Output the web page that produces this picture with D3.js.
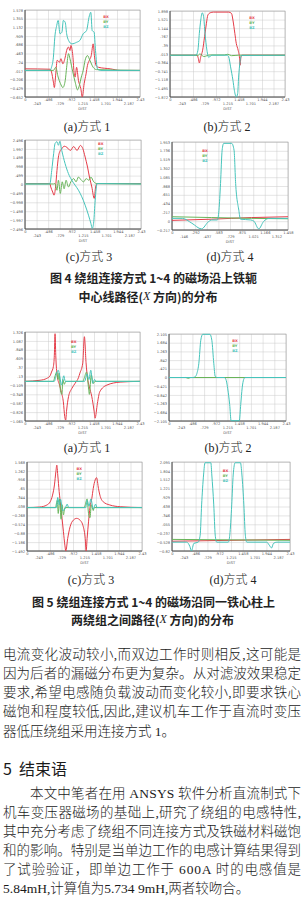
<!DOCTYPE html>
<html>
<head>
<meta charset="utf-8">
<script src="https://cdn.jsdelivr.net/npm/d3@7"></script>
<style>
body { margin: 0; background: #fff; }
svg { display: block; }
</style>
</head>
<body>
<div id="display"></div>
<script>

// x tick labels (ANSYS path distance)
const xTicksLong = [0, .243, .486, .729, .972, 1.215, 1.458, 1.701, 1.944, 2.187, 2.43]
const xTicksShort = [0, .146, .292, .437, .583, .729, .875, 1.021, 1.166, 1.312, 1.458]
const seriesNames = ["BX", "BY", "BZ"]

// fig 4 (a)
const f4aTicks = [1.578, 1.355, 1.132, .909, .686, .463, .24, .017, -.206, -.429, -.652]
const f4aBX = [[0,.07],[.53,.06],[.56,-.01],[.60,-.27],[.62,-.41],[.65,-.06],[.68,.29],[.73,.24],[.76,.33],[.80,.20],[.85,.37],[.88,.54],[.92,.63],[.95,.54],[.97,.67],[1.01,.41],[1.04,-.06],[1.06,-.14],[1.09,.11],[1.13,-.23],[1.18,-.44],[1.21,-.65],[1.25,-.31],[1.29,-.06],[1.32,.16],[1.36,.29],[1.40,.41],[1.44,.71],[1.47,.37],[1.50,.16],[1.55,.11],[1.80,.07],[2.01,.03],[2.43,.03]]
const f4aBY = [[0,.03],[.60,.03],[.65,.11],[.70,-.14],[.75,-.31],[.80,-.41],[.85,-.23],[.88,.11],[.92,.46],[.95,.33],[1.01,-.01],[1.06,-.27],[1.11,-.47],[1.15,-.35],[1.19,-.14],[1.23,.03],[1.27,.29],[1.32,.41],[1.37,.29],[1.44,.11],[1.51,.05],[2.43,.03]]
const f4aBZ = [[0,.03],[.53,.03],[.56,.11],[.60,.37],[.63,.88],[.67,1.18],[.70,1.31],[.74,.97],[.78,1.01],[.81,1.31],[.85,1.26],[.88,.97],[.92,.80],[.99,.71],[1.09,.75],[1.16,.80],[1.23,.97],[1.30,1.05],[1.36,1.43],[1.39,1.52],[1.42,1.05],[1.46,1.01],[1.49,.54],[1.53,.07],[1.59,.03],[2.43,.03]]

// fig 4 (b)
const f4bTicks = [1.898, 1.521, 1.144, .767, .39, .013, -.364, -.741, -1.118, -1.495, -1.872]
const f4bBX = [[0,-.04],[.57,-.04],[.60,-.19],[.62,-.38],[.65,-.11],[.69,.18],[.73,.77],[.77,1.36],[.80,1.72],[.85,1.82],[.92,1.85],[1.24,1.85],[1.30,1.79],[1.33,1.50],[1.37,.92],[1.40,.48],[1.44,.18],[1.47,-.19],[1.48,-.48],[1.50,-.11],[1.52,-.04],[2.43,-.04]]
const f4bBY = [[0,-.04],[.60,-.04],[.63,.02],[.66,-.02],[.72,-.10],[.78,-.06],[.85,-.03],[1.15,-.03],[1.22,0],[1.30,-.06],[1.45,-.04],[2.43,-.04]]
const f4bBZ = [[0,-.04],[.55,-.04],[.59,.18],[.62,.92],[.65,1.50],[.68,1.82],[.71,1.65],[.74,.92],[.78,.18],[.82,-.14],[.85,-.08],[.89,-.04],[1.21,-.04],[1.24,-.11],[1.28,-.55],[1.33,-1.14],[1.36,-1.58],[1.40,-1.87],[1.43,-1.72],[1.45,-1.0],[1.48,-.33],[1.51,-.05],[2.43,-.04]]

// fig 4 (c)
const f4cTicks = [2.496, 1.997, 1.498, .998, .499, 0, -.499, -.998, -1.498, -1.997, -2.496]
const f4cBX = [[0,.05],[.52,.05],[.54,-.14],[.58,-.42],[.61,-.6],[.64,-.14],[.67,.79],[.70,1.54],[.74,1.91],[.77,2.0],[.82,2.15],[.88,2.08],[.95,1.91],[1.02,2.13],[1.09,1.91],[1.16,2.19],[1.21,2.02],[1.26,1.54],[1.31,.98],[1.35,.42],[1.40,-.14],[1.45,-.78],[1.48,-.14],[1.51,.05],[2.43,.05]]
const f4cBY = [[0,.03],[.60,.03],[.63,.05],[.67,-.32],[.70,.24],[.74,-.5],[.78,.15],[.82,-.24],[.86,.24],[.91,-.14],[.96,.15],[1.02,.33],[1.07,.15],[1.12,.42],[1.17,.27],[1.23,.15],[1.28,.33],[1.34,.24],[1.38,.42],[1.44,.15],[1.51,.05],[2.43,.03]]
const f4cBZ = [[0,.03],[.52,.03],[.56,.79],[.60,1.73],[.63,2.3],[.67,2.4],[.70,2.2],[.73,2.42],[.77,1.91],[.84,1.17],[.91,.61],[.98,.24],[1.05,-.04],[1.12,-.32],[1.19,-.69],[1.26,-1.16],[1.33,-1.72],[1.38,-2.18],[1.41,-2.46],[1.44,-2.09],[1.47,-.88],[1.51,.05],[2.43,.03]]

// fig 4 (d)
const f4dTicks = [1.953, 1.736, 1.519, 1.302, 1.085, .868, .651, .434, .217, 0, -.217]
const f4dBX = [[0,.02],[.5,.05],[1.0,.09],[1.458,.11]]
const f4dBY = [[0,.11],[.5,.09],[1.0,.07],[1.458,.06]]
const f4dBZ = [[0,.07],[.13,.07],[.25,-.05],[.37,-.19],[.46,-.01],[.50,.03],[.57,.03],[.59,.27],[.61,.93],[.63,1.75],[.65,1.92],[.75,1.92],[.78,1.75],[.80,.93],[.84,.27],[.86,.05],[.99,.03],[1.03,0],[1.09,-.19],[1.15,-.01],[1.22,.07],[1.458,.07]]

// fig 5 (a)
const f5aTicks = [1.326, 1.087, .848, .609, .37, .13, -.109, -.348, -.587, -.826, -1.065]
const f5aBX = [[0,0],[.32,.03],[.46,.08],[.53,.15],[.56,.25],[.60,.40],[.62,.70],[.635,1.28],[.65,.70],[.68,.15],[.73,-.10],[.77,-.30],[.81,-.55],[.84,-.95],[.86,-1.04],[.88,-.77],[.92,-.41],[.99,-.19],[1.06,-.05],[1.13,.10],[1.16,.22],[1.22,.49],[1.255,1.20],[1.29,.50],[1.32,.10],[1.36,-.15],[1.41,-.40],[1.46,-.80],[1.48,-.99],[1.53,-.59],[1.58,-.28],[1.73,-.10],[2.01,-.02],[2.43,0]]
const f5aBY = [[0,0],[.60,0],[.63,.12],[.67,.25],[.70,.05],[.72,.22],[.75,-.25],[.78,-.35],[.80,.05],[.83,-.08],[.86,0],[1.22,0],[1.25,.08],[1.30,.25],[1.34,-.15],[1.36,-.35],[1.40,.18],[1.44,-.06],[1.48,0],[2.43,0]]
const f5aBZ = [[0,0],[.62,0],[.66,.18],[.70,.30],[.74,.1],[.77,-.1],[.82,.15],[.85,0],[1.26,0],[1.31,.2],[1.35,.05],[1.39,.30],[1.43,-.05],[1.47,.05],[1.50,0],[2.43,0]]

// fig 5 (b)
const f5bTicks = [2.105, 1.684, 1.263, .842, .421, 0, -.421, -.842, -1.263, -1.684, -2.105]
const f5bBX = [[0,0],[2.43,0]]
const f5bBY = [[0,0],[.35,0],[.40,-.04],[.45,0],[2.43,0]]
const f5bBZ = [[0,0],[.50,0],[.55,.05],[.58,.20],[.62,.69],[.66,1.8],[.70,2.09],[.85,2.09],[.89,1.8],[.93,.69],[.96,.05],[1.0,0],[1.15,0],[1.19,-.15],[1.22,-.55],[1.26,-1.3],[1.29,-2.09],[1.46,-2.09],[1.49,-1.3],[1.52,-.50],[1.55,-.1],[1.58,0],[2.43,0]]

// fig 5 (c)
const f5cTicks = [1.568, 1.262, .956, .65, .344, .038, -.268, -.574, -.88, -1.186, -1.492]
const f5cBX = [[0,0],[.27,.02],[.42,.09],[.49,.20],[.54,.43],[.58,.78],[.61,1.23],[.63,1.46],[.65,1.12],[.68,.55],[.71,.09],[.74,-.37],[.77,-.83],[.80,-1.29],[.82,-1.49],[.86,-1.06],[.91,-.66],[.98,-.43],[1.05,-.37],[1.12,-.43],[1.19,-.66],[1.23,-1.06],[1.25,-1.49],[1.27,-1.06],[1.30,-.49],[1.33,0],[1.37,.32],[1.40,.66],[1.44,.95],[1.47,1.03],[1.51,.66],[1.54,.43],[1.61,.20],[1.75,.09],[1.97,.03],[2.43,0]]
const f5cBY = [[0,0],[.60,0],[.64,.25],[.66,-.2],[.69,.3],[.72,-.4],[.74,.1],[.77,-.25],[.80,0],[1.21,0],[1.24,.15],[1.27,.3],[1.30,-.2],[1.33,-.35],[1.36,.1],[1.40,-.1],[1.42,0],[2.43,0]]
const f5cBZ = [[0,0],[.62,0],[.65,.35],[.68,.1],[.71,.28],[.75,-.1],[.80,-.05],[.85,.12],[.88,0],[1.24,0],[1.27,.25],[1.31,.05],[1.35,.30],[1.40,-.05],[1.45,.12],[1.48,0],[2.43,0]]

// fig 5 (d)
const f5dTicks = [2.095, 1.804, 1.512, 1.221, .929, .638, .346, .055, -.237, -.528, -.82]
const f5dBX = [[0,-.50],[2.43,-.44]]
const f5dBY = [[0,-.44],[2.43,-.47]]
const f5dBZ = [[0,-.53],[.30,-.53],[.37,-.68],[.40,-.82],[.45,-.57],[.54,-.53],[.58,-.30],[.61,.69],[.65,1.67],[.68,2.07],[.80,2.07],[.82,1.67],[.86,.69],[.89,-.30],[.92,-.53],[1.16,-.53],[1.19,-.30],[1.23,.69],[1.26,1.67],[1.30,2.07],[1.41,2.07],[1.44,1.67],[1.48,.69],[1.51,-.30],[1.54,-.53],[1.95,-.53],[2.00,-.62],[2.05,-.72],[2.09,-.57],[2.16,-.53],[2.43,-.53]]

const fig4Caption = ["图 4 绕组连接方式 1~4 的磁场沿上铁轭", "中心线路径(", "X", " 方向)的分布"]
const fig5Caption = ["图 5 绕组连接方式 1~4 的磁场沿同一铁心柱上", "两绕组之间路径(", "X", " 方向)的分布"]

const para1 = [
  "电流变化波动较小,而双边工作时则相反,这可能是",
  "因为后者的漏磁分布更为复杂。从对滤波效果稳定",
  "要求,希望电感随负载波动而变化较小,即要求铁心",
  "磁饱和程度较低,因此,建议机车工作于直流时变压",
  "器低压绕组采用连接方式 1。"
]
const heading = "5  结束语"
const para2 = [
  "本文中笔者在用 ANSYS 软件分析直流制式下",
  "机车变压器磁场的基础上,研究了绕组的电感特性,",
  "其中充分考虑了绕组不同连接方式及铁磁材料磁饱",
  "和的影响。特别是当单边工作的电感计算结果得到",
  "了试验验证，即单边工作于 600A 时的电感值是",
  "5.84mH,计算值为5.734 9mH,两者较吻合。"
]

const colors = ["#e53c48", "#68b45a", "#46c4bb"]

const panels = [
  {id: "f4a", left: 25, top: 10, w: 115, h: 87, xt: xTicksLong, yt: f4aTicks, data: [f4aBX, f4aBY, f4aBZ], cap: "(a)方式 1", cx: 87, cy: 127, lx: .68, ly: 8},
  {id: "f4b", left: 170, top: 11, w: 115, h: 86, xt: xTicksLong, yt: f4bTicks, data: [f4bBX, f4bBY, f4bBZ], cap: "(b)方式 2", cx: 227, cy: 127, lx: .69, ly: 8},
  {id: "f4c", left: 25, top: 140, w: 116, h: 89, xt: xTicksLong, yt: f4cTicks, data: [f4cBX, f4cBY, f4cBZ], cap: "(c)方式 3", cx: 89, cy: 257, lx: .63, ly: 5},
  {id: "f4d", left: 172, top: 142, w: 116, h: 88, xt: xTicksShort, yt: f4dTicks, data: [f4dBX, f4dBY, f4dBZ], cap: "(d)方式 4", cx: 230, cy: 257, lx: .26, ly: 10},
  {id: "f5a", left: 25, top: 332, w: 115, h: 89, xt: xTicksLong, yt: f5aTicks, data: [f5aBX, f5aBY, f5aBZ], cap: "(a)方式 1", cx: 87, cy: 448, lx: .40, ly: 11},
  {id: "f5b", left: 169, top: 334, w: 117, h: 87, xt: xTicksLong, yt: f5bTicks, data: [f5bBX, f5bBY, f5bBZ], cap: "(b)方式 2", cx: 228, cy: 448, lx: .54, ly: 8},
  {id: "f5c", left: 27, top: 462, w: 115, h: 89, xt: xTicksLong, yt: f5cTicks, data: [f5cBX, f5cBY, f5cBZ], cap: "(c)方式 3", cx: 91, cy: 580, lx: .43, ly: 8},
  {id: "f5d", left: 172, top: 462, w: 118, h: 89, xt: xTicksLong, yt: f5dTicks, data: [f5dBX, f5dBY, f5dBZ], cap: "(d)方式 4", cx: 233, cy: 580, lx: .43, ly: 10}
]

const fmt = v => v === 0 ? "0" : d3.format(".3~f")(v).replace(/^(-?)0\./, "$1.")
const serif = "'Liberation Serif', 'Noto Sans CJK SC', serif"
const sans = "'Noto Sans CJK SC', sans-serif"

function drawPanel(svg, p)
{
  let x = d3.scaleLinear([p.xt[0], p.xt[p.xt.length - 1]], [p.left, p.left + p.w])
  let y = d3.scaleLinear([p.yt[p.yt.length - 1], p.yt[0]], [p.top + p.h, p.top])
  const g = svg.append("g")

  g.append("g")
      .attr("transform", `translate(${p.left},0)`)
      .call(d3.axisLeft(y).tickValues(p.yt).tickSize(-p.w).tickPadding(2).tickFormat(fmt))
      .call(a => a.select(".domain").remove())
      .call(a => a.selectAll("line").attr("stroke", "#cacaca").attr("stroke-width", .5))
      .call(a => a.selectAll("text").attr("fill", "#555"))
      .attr("font-size", 3.6)
      .attr("font-family", "DejaVu Sans")

  g.append("g")
      .attr("transform", `translate(0,${p.top + p.h})`)
      .call(d3.axisBottom(x).tickValues(p.xt).tickSize(-p.h).tickPadding(1.5).tickFormat(fmt))
      .call(a => a.select(".domain").remove())
      .call(a => a.selectAll("line").attr("stroke", "#cacaca").attr("stroke-width", .5))
      .call(a => a.selectAll("text").attr("fill", "#555").attr("y", (d, i) => i % 2 ? 5.4 : 1.6))
      .attr("font-size", 3.6)
      .attr("font-family", "DejaVu Sans")

  g.append("text")
      .attr("x", p.left + p.w / 2)
      .attr("y", p.top + p.h + 13)
      .attr("text-anchor", "middle")
      .attr("font-size", 3.6)
      .attr("font-family", "DejaVu Sans")
      .attr("fill", "#555")
      .text("DIST")

  g.append("rect")
      .attr("x", p.left).attr("y", p.top)
      .attr("width", p.w).attr("height", p.h)
      .attr("fill", "none").attr("stroke", "#a0a0a0").attr("stroke-width", .6)

  g.append("path")
      .attr("d", `M${p.left},${p.top}V${p.top + p.h}H${p.left + p.w}`)
      .attr("fill", "none").attr("stroke", "#444").attr("stroke-width", .9)

  g.append("clipPath").attr("id", "clip-" + p.id)
    .append("rect")
      .attr("x", p.left).attr("y", p.top - 1)
      .attr("width", p.w).attr("height", p.h + 2)

  const line = d3.line().x(d => x(d[0])).y(d => y(d[1])).curve(d3.curveMonotoneX)

  g.append("g")
      .attr("clip-path", `url(#clip-${p.id})`)
    .selectAll("path")
    .data(p.data)
    .join("path")
      .attr("d", line)
      .attr("fill", "none")
      .attr("stroke", (d, i) => colors[i])
      .attr("stroke-width", 1)
      .attr("stroke-linejoin", "round")

  g.append("g")
    .selectAll("text")
    .data(seriesNames)
    .join("text")
      .attr("x", p.left + p.lx * p.w)
      .attr("y", (d, i) => p.top + p.ly + i * 5)
      .attr("font-size", 3.6)
      .attr("font-family", "DejaVu Sans")
      .attr("font-weight", "bold")
      .attr("fill", (d, i) => colors[i])
      .text(d => d)

  g.append("text")
      .attr("x", p.cx)
      .attr("y", p.cy)
      .attr("text-anchor", "middle")
      .attr("dominant-baseline", "central")
      .attr("font-size", 12)
      .attr("font-family", serif)
      .attr("font-weight", 300)
      .attr("fill", "#222")
      .text(p.cap)
}

function caption(svg, lines, cx1, y1, cx2, y2)
{
  svg.append("text")
      .attr("x", cx1).attr("y", y1)
      .attr("text-anchor", "middle").attr("dominant-baseline", "central")
      .attr("font-size", 12).attr("font-weight", "bold")
      .attr("font-family", sans).attr("fill", "#222")
      .text(lines[0])
  const t = svg.append("text")
      .attr("x", cx2).attr("y", y2)
      .attr("text-anchor", "middle").attr("dominant-baseline", "central")
      .attr("font-size", 12).attr("font-weight", "bold")
      .attr("font-family", sans).attr("fill", "#222")
  t.append("tspan").text(lines[1])
  t.append("tspan").attr("font-family", serif).attr("font-style", "italic").attr("font-weight", "normal").text(lines[2])
  t.append("tspan").text(lines[3])
}

function paragraph(svg, lines, y0, step, indent)
{
  lines.forEach((s, i) => {
    const last = i === lines.length - 1
    const x0 = i === 0 ? 3 + indent : 3
    const t = svg.append("text")
        .attr("x", x0)
        .attr("y", y0 + i * step)
        .attr("dominant-baseline", "central")
        .attr("font-size", 13.5)
        .attr("font-family", serif)
        .attr("font-weight", 300)
        .attr("fill", "#1a1a1a")
        .text(s)
    if (!last) t.attr("textLength", 301 - x0).attr("lengthAdjust", "spacing")
  })
}

function chart(parentNode)
{
  let width = 304
  let height = 912

  const svg = d3.create("svg")
      .attr("width", width)
      .attr("height", height)
      .attr("viewBox", [0, 0, width, height])

  panels.forEach(p => drawPanel(svg, p))

  caption(svg, fig4Caption, 153.5, 277, 148, 296)
  caption(svg, fig5Caption, 153.5, 601, 152.5, 619)

  paragraph(svg, para1, 654, 19.25, 0)

  svg.append("text")
      .attr("x", 3).attr("y", 768)
      .attr("dominant-baseline", "central")
      .attr("font-size", 16)
      .attr("font-family", sans)
      .attr("fill", "#1a1a1a")
      .attr("xml:space", "preserve")
      .text(heading)

  paragraph(svg, para2, 793, 19.05, 27)

  parentNode.appendChild(svg.node())
}

document.addEventListener("DOMContentLoaded", () => {
    chart(document.getElementById("display"))
})
</script>
</body>
</html>
